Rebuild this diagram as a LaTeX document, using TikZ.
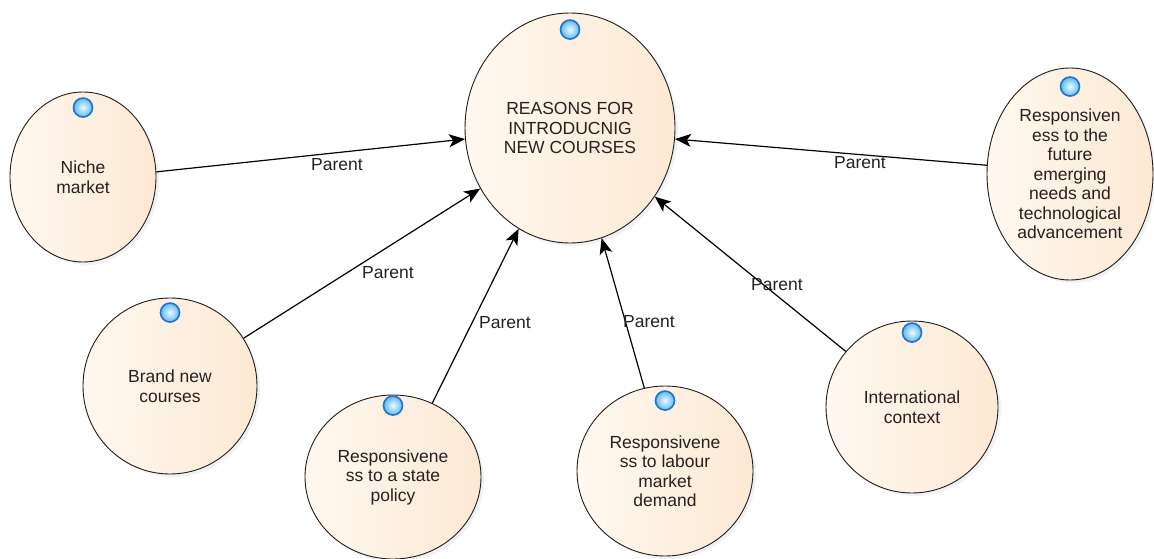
\documentclass[tikz,border=0pt]{standalone}
\usepackage{fontspec}
\setmainfont{Liberation Sans}
\usetikzlibrary{shapes.geometric,arrows.meta,shadows}
\definecolor{txt}{RGB}{40,32,32}
\definecolor{peachL}{RGB}{255,248,240}
\definecolor{peachR}{RGB}{252,233,212}
\definecolor{edgec}{RGB}{35,28,28}
\definecolor{dotblue}{RGB}{30,115,205}
\definecolor{dotin}{RGB}{235,250,255}
\definecolor{dotout}{RGB}{95,185,240}
\begin{document}
\begin{tikzpicture}[x=1pt,y=-1pt,
  usecase/.style={ellipse, draw=edgec, line width=0.9pt, left color=peachL, right color=peachR,
    inner sep=0pt, align=center, text=txt, font=\fontsize{17.5}{19.5}\selectfont,
    drop shadow={shadow xshift=3pt, shadow yshift=-3pt, opacity=0.10}},
  knob/.style={circle, minimum size=19pt, inner sep=0pt, draw=dotblue, line width=1.6pt,
    inner color=dotin, outer color=dotout},
  rel/.style={-{Stealth[length=16pt,width=13pt,inset=4pt]}, line width=1.2pt, draw=black},
  lbl/.style={text=txt, font=\fontsize{17.5}{19.5}\selectfont, inner sep=0pt}]
\useasboundingbox (0,0) rectangle (1154,559);

\node[usecase, minimum width=210pt, minimum height=230pt] (main) at (570,128)
  {REASONS FOR\\INTRODUCNIG\\NEW COURSES};
\node[usecase, minimum width=146pt, minimum height=170pt] (niche) at (83,177)
  {Niche\\market};
\node[usecase, minimum width=166pt, minimum height=212pt] (future) at (1070,174)
  {Responsiven\\ess to the\\future\\emerging\\needs and\\technological\\advancement};
\node[usecase, minimum width=174pt, minimum height=176pt] (brand) at (170,386)
  {Brand new\\courses};
\node[usecase, minimum width=176pt, minimum height=164pt] (state) at (393,477)
  {Responsivene\\ss to a state\\policy};
\node[usecase, minimum width=176pt, minimum height=170pt] (labour) at (665,471)
  {Responsivene\\ss to labour\\market\\demand};
\node[usecase, minimum width=172pt, minimum height=172pt] (intl) at (912,407)
  {International\\context};

\foreach \n/\d in {main/17, niche/16, future/19, brand/15, state/11, labour/15, intl/12}
  \node[knob] (k-\n) at ([yshift=-\d pt]\n.north) {};

\draw[rel] (niche.4.8) -- (main.186.4);
\draw[rel] (future.174.4) -- (main.354.8);
\draw[rel] (brand.33.2) -- (main.214);
\draw[rel] (state.62.6) -- (main.243.4);
\draw[rel] (labour.104.8) -- (main.286);
\draw[rel] (intl.140.6) -- (main.321.5);

\node[lbl] (p1) at (337,165) {Parent};
\node[lbl] (p2) at (860,163) {Parent};
\node[lbl] (p3) at (388,273) {Parent};
\node[lbl] (p4) at (505,323) {Parent};
\node[lbl] (p5) at (649,322) {Parent};
\node[lbl] (p6) at (777,285) {Parent};
\end{tikzpicture}
\end{document}
